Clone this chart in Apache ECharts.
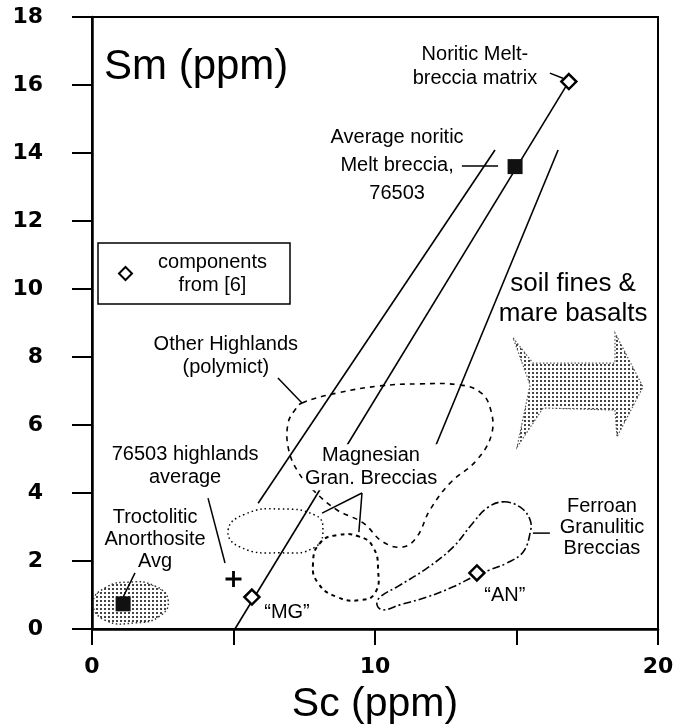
<!DOCTYPE html>
<html>
<head>
<meta charset="utf-8">
<script src="https://cdn.jsdelivr.net/npm/echarts@6/dist/echarts.min.js"></script>
<style>
  html, body { margin: 0; padding: 0; background: #fff; }
  #sm-sc-box { width: 681px; height: 727px; }
</style>
</head>
<body>
<div id="sm-sc-box"></div>
<script>
// Sc (ppm) vs Sm (ppm)
var xTickLabels = [0, 10, 20];
var componentPts = [[16.85, 16.1], [5.65, 0.94], [13.6, 1.65]];   // diamonds, components from [6]
var averagePts = [[14.95, 13.6], [1.1, 0.74]];                     // black squares
var highlandAvgPt = [[5.0, 1.47]];                                  // "+"
var mixLines = [
  [5.05, 0, 16.85, 16.1],
  [5.87, 3.7, 14.24, 14.09],
  [12.05, 5.2, 16.47, 14.09]
];
var otherHighlands = [[7.42, 6.65], [8.66, 6.94], [10.18, 7.15], [11.59, 7.21], [13.0, 7.18], [13.71, 6.97],
  [14.06, 6.53], [14.13, 5.76], [13.6, 4.97], [12.65, 4.29], [11.94, 3.5], [11.48, 2.71], [10.99, 2.41],
  [10.28, 2.56], [9.58, 3.12], [8.66, 3.5], [7.81, 4.09], [7.24, 4.68], [6.93, 5.35], [6.93, 6.06], [7.17, 6.44]];
var magGranDotted = [[4.81, 2.91], [5.41, 3.38], [6.64, 3.53], [7.88, 3.35], [8.16, 2.97], [7.88, 2.41], [6.64, 2.24], [5.23, 2.41]];
var magGranDashed = [[9.47, 2.71], [8.66, 2.76], [8.06, 2.53], [7.81, 1.94], [7.99, 1.35], [8.66, 0.94], [9.47, 0.85],
  [10.0, 1.06], [10.11, 1.74], [9.93, 2.41]];
var ferroan = [[14.52, 3.74], [15.12, 3.59], [15.48, 3.21], [15.48, 2.82], [15.23, 2.26], [14.66, 1.94], [14.06, 1.74],
  [13.6, 1.59], [12.76, 1.24], [11.84, 0.94], [10.88, 0.71], [10.28, 0.56], [10.07, 0.71], [10.18, 0.94],
  [10.78, 1.24], [11.84, 1.79], [12.76, 2.41], [13.46, 3.12], [13.96, 3.56]];
var troctolitic = [[0.04, 0.76], [0.46, 1.21], [1.34, 1.38], [2.23, 1.26], [2.69, 0.85], [2.4, 0.38], [1.52, 0.18], [0.46, 0.26]];
var soilArrow = [[14.88, 8.56], [15.58, 7.82], [18.48, 7.82], [18.48, 8.71], [19.47, 7.12], [18.55, 5.65],
  [18.48, 6.44], [15.94, 6.5], [15.02, 5.35], [15.48, 7.18]];
var leaders = [
  [16.18, 16.35, 16.64, 16.2],
  [13.07, 13.62, 14.35, 13.62],
  [6.57, 7.38, 7.42, 6.65],
  [4.1, 3.85, 4.7, 1.94],
  [1.52, 1.65, 1.1, 0.94],
  [8.13, 3.41, 9.54, 4.0],
  [9.54, 4.0, 9.43, 2.85],
  [15.58, 2.82, 16.18, 2.82]
];
var notes = [
  { t: 'Noritic Melt-\nbreccia matrix', at: [13.53, 16.53], lh: 24 },
  { t: 'Average noritic\nMelt breccia,\n76503', at: [10.78, 13.62], lh: 28 },
  { t: 'Other Highlands\n(polymict)', at: [4.73, 8.03], lh: 23 },
  { t: '76503 highlands\naverage', at: [3.29, 4.79], lh: 23 },
  { t: 'Troctolitic\nAnorthosite\nAvg', at: [2.23, 2.62], lh: 22 },
  { t: 'Magnesian\nGran. Breccias', at: [9.86, 4.76], lh: 23, bg: true },
  { t: 'Ferroan\nGranulitic\nBreccias', at: [18.02, 3.0], lh: 21 },
  { t: 'soil fines &\nmare basalts', at: [17.0, 9.7], lh: 30, size: 26 },
  { t: '\u201cMG\u201d', at: [6.89, 0.5], lh: 20 },
  { t: '\u201cAN\u201d', at: [14.59, 1.0], lh: 20 }
];

var FONT = '"Liberation Sans", Arial, Helvetica, sans-serif';

function stipple(step, size, color) {
  var c = document.createElement('canvas');
  c.width = c.height = step;
  var g = c.getContext('2d');
  g.fillStyle = color;
  g.fillRect(0, 0, size, size);
  return c;
}

function region(pts, style, smooth) {
  return {
    type: 'custom',
    silent: true,
    z: 2,
    data: [pts[0]],
    renderItem: function (params, api) {
      var p = pts.map(function (d) { return api.coord(d); });
      return { type: 'polygon', shape: { points: p, smooth: smooth }, style: style };
    }
  };
}

function segments(list, width) {
  return {
    type: 'custom',
    silent: true,
    z: 3,
    data: list,
    renderItem: function (params, api) {
      var a = api.coord([api.value(0), api.value(1)]);
      var b = api.coord([api.value(2), api.value(3)]);
      return { type: 'line', shape: { x1: a[0], y1: a[1], x2: b[0], y2: b[1] },
        style: { stroke: '#000', lineWidth: width } };
    }
  };
}

var chartObj = echarts.init(document.getElementById('sm-sc-box'));
var option = {
  animation: false,
  title: {
    text: 'Sm (ppm)', left: 104, top: 46, padding: 0,
    textStyle: { fontFamily: FONT, fontSize: 42, fontWeight: 'normal', color: '#000' }
  },
  legend: {
    data: ['components from [6]'],
    left: 98, top: 243,
    padding: [9, 2, 9, 20],
    itemWidth: 13, itemHeight: 13,
    borderColor: '#000', borderWidth: 1.5,
    selectedMode: false,
    formatter: function () { return '{a|components}\n{a|from [6]}'; },
    textStyle: {
      rich: { a: { width: 151, align: 'center', fontSize: 20, lineHeight: 23, fontFamily: FONT, color: '#000' } }
    }
  },
  grid: {
    left: 92, right: 23, top: 17, bottom: 98, outerBoundsMode: 'none',
    show: true, borderColor: '#000', borderWidth: 2
  },
  xAxis: {
    type: 'value', min: 0, max: 20, interval: 5,
    name: 'Sc (ppm)', nameLocation: 'middle', nameGap: 55,
    nameTextStyle: { fontFamily: FONT, fontSize: 41, color: '#000' },
    axisLine: { lineStyle: { color: '#000', width: 2.5 } },
    axisTick: { length: 16, lineStyle: { color: '#000', width: 2 } },
    splitLine: { show: false },
    axisLabel: {
      margin: 27, color: '#000', fontFamily: '"DejaVu Sans", sans-serif', fontWeight: 'bold', fontSize: 22,
      formatter: function (v) { return xTickLabels.indexOf(v) >= 0 ? String(v) : ''; }
    }
  },
  yAxis: {
    type: 'value', min: 0, max: 18, interval: 2,
    axisLine: { lineStyle: { color: '#000', width: 2.5 } },
    axisTick: { length: 20, lineStyle: { color: '#000', width: 2 } },
    splitLine: { show: false },
    axisLabel: { margin: 49, color: '#000', fontFamily: '"DejaVu Sans", sans-serif', fontWeight: 'bold', fontSize: 22 }
  },
  series: [
    region(troctolitic, { fill: { image: stipple(4, 2, '#444'), repeat: 'repeat' }, stroke: '#333', lineWidth: 1.5, lineDash: [1.5, 2.5] }, 0.5),
    region(soilArrow, { fill: { image: stipple(4, 2, '#444'), repeat: 'repeat' }, stroke: '#555', lineWidth: 1.2, lineDash: [1.5, 2] }, 0),
    region(otherHighlands, { fill: 'none', stroke: '#000', lineWidth: 1.6, lineDash: [5, 5] }, 0.4),
    region(magGranDotted, { fill: 'none', stroke: '#000', lineWidth: 1.5, lineDash: [1.5, 3] }, 0.5),
    region(magGranDashed, { fill: 'none', stroke: '#000', lineWidth: 2, lineDash: [4, 4] }, 0.5),
    region(ferroan, { fill: 'none', stroke: '#000', lineWidth: 1.6, lineDash: [8, 3, 2, 3] }, 0.4),
    segments(mixLines, 1.6),
    segments(leaders, 1.5),
    {
      type: 'custom',
      silent: true,
      z: 6,
      data: notes.map(function (n) { return n.at; }),
      renderItem: function (params, api) {
        var n = notes[params.dataIndex];
        var p = api.coord(n.at);
        return {
          type: 'text', x: p[0], y: p[1], z2: 10,
          style: {
            text: n.t, fill: '#000',
            font: (n.size || 20) + 'px ' + FONT,
            align: 'center', verticalAlign: 'middle', lineHeight: n.lh,
            backgroundColor: n.bg ? '#fff' : null, padding: n.bg ? [0, 2] : 0
          }
        };
      }
    },
    {
      name: 'components from [6]',
      type: 'scatter', z: 8, symbol: 'diamond', symbolSize: 15,
      itemStyle: { color: '#fff', borderColor: '#000', borderWidth: 2.5, opacity: 1 },
      data: componentPts
    },
    {
      type: 'scatter', z: 8, symbol: 'rect', symbolSize: 15,
      itemStyle: { color: '#111', opacity: 1 },
      data: averagePts
    },
    {
      type: 'scatter', z: 8, symbol: 'path://M7,0H10V7H17V10H10V17H7V10H0V7H7Z', symbolSize: 16,
      itemStyle: { color: '#000', opacity: 1 },
      data: highlandAvgPt
    }
  ]
};
chartObj.setOption(option);
</script>
</body>
</html>
